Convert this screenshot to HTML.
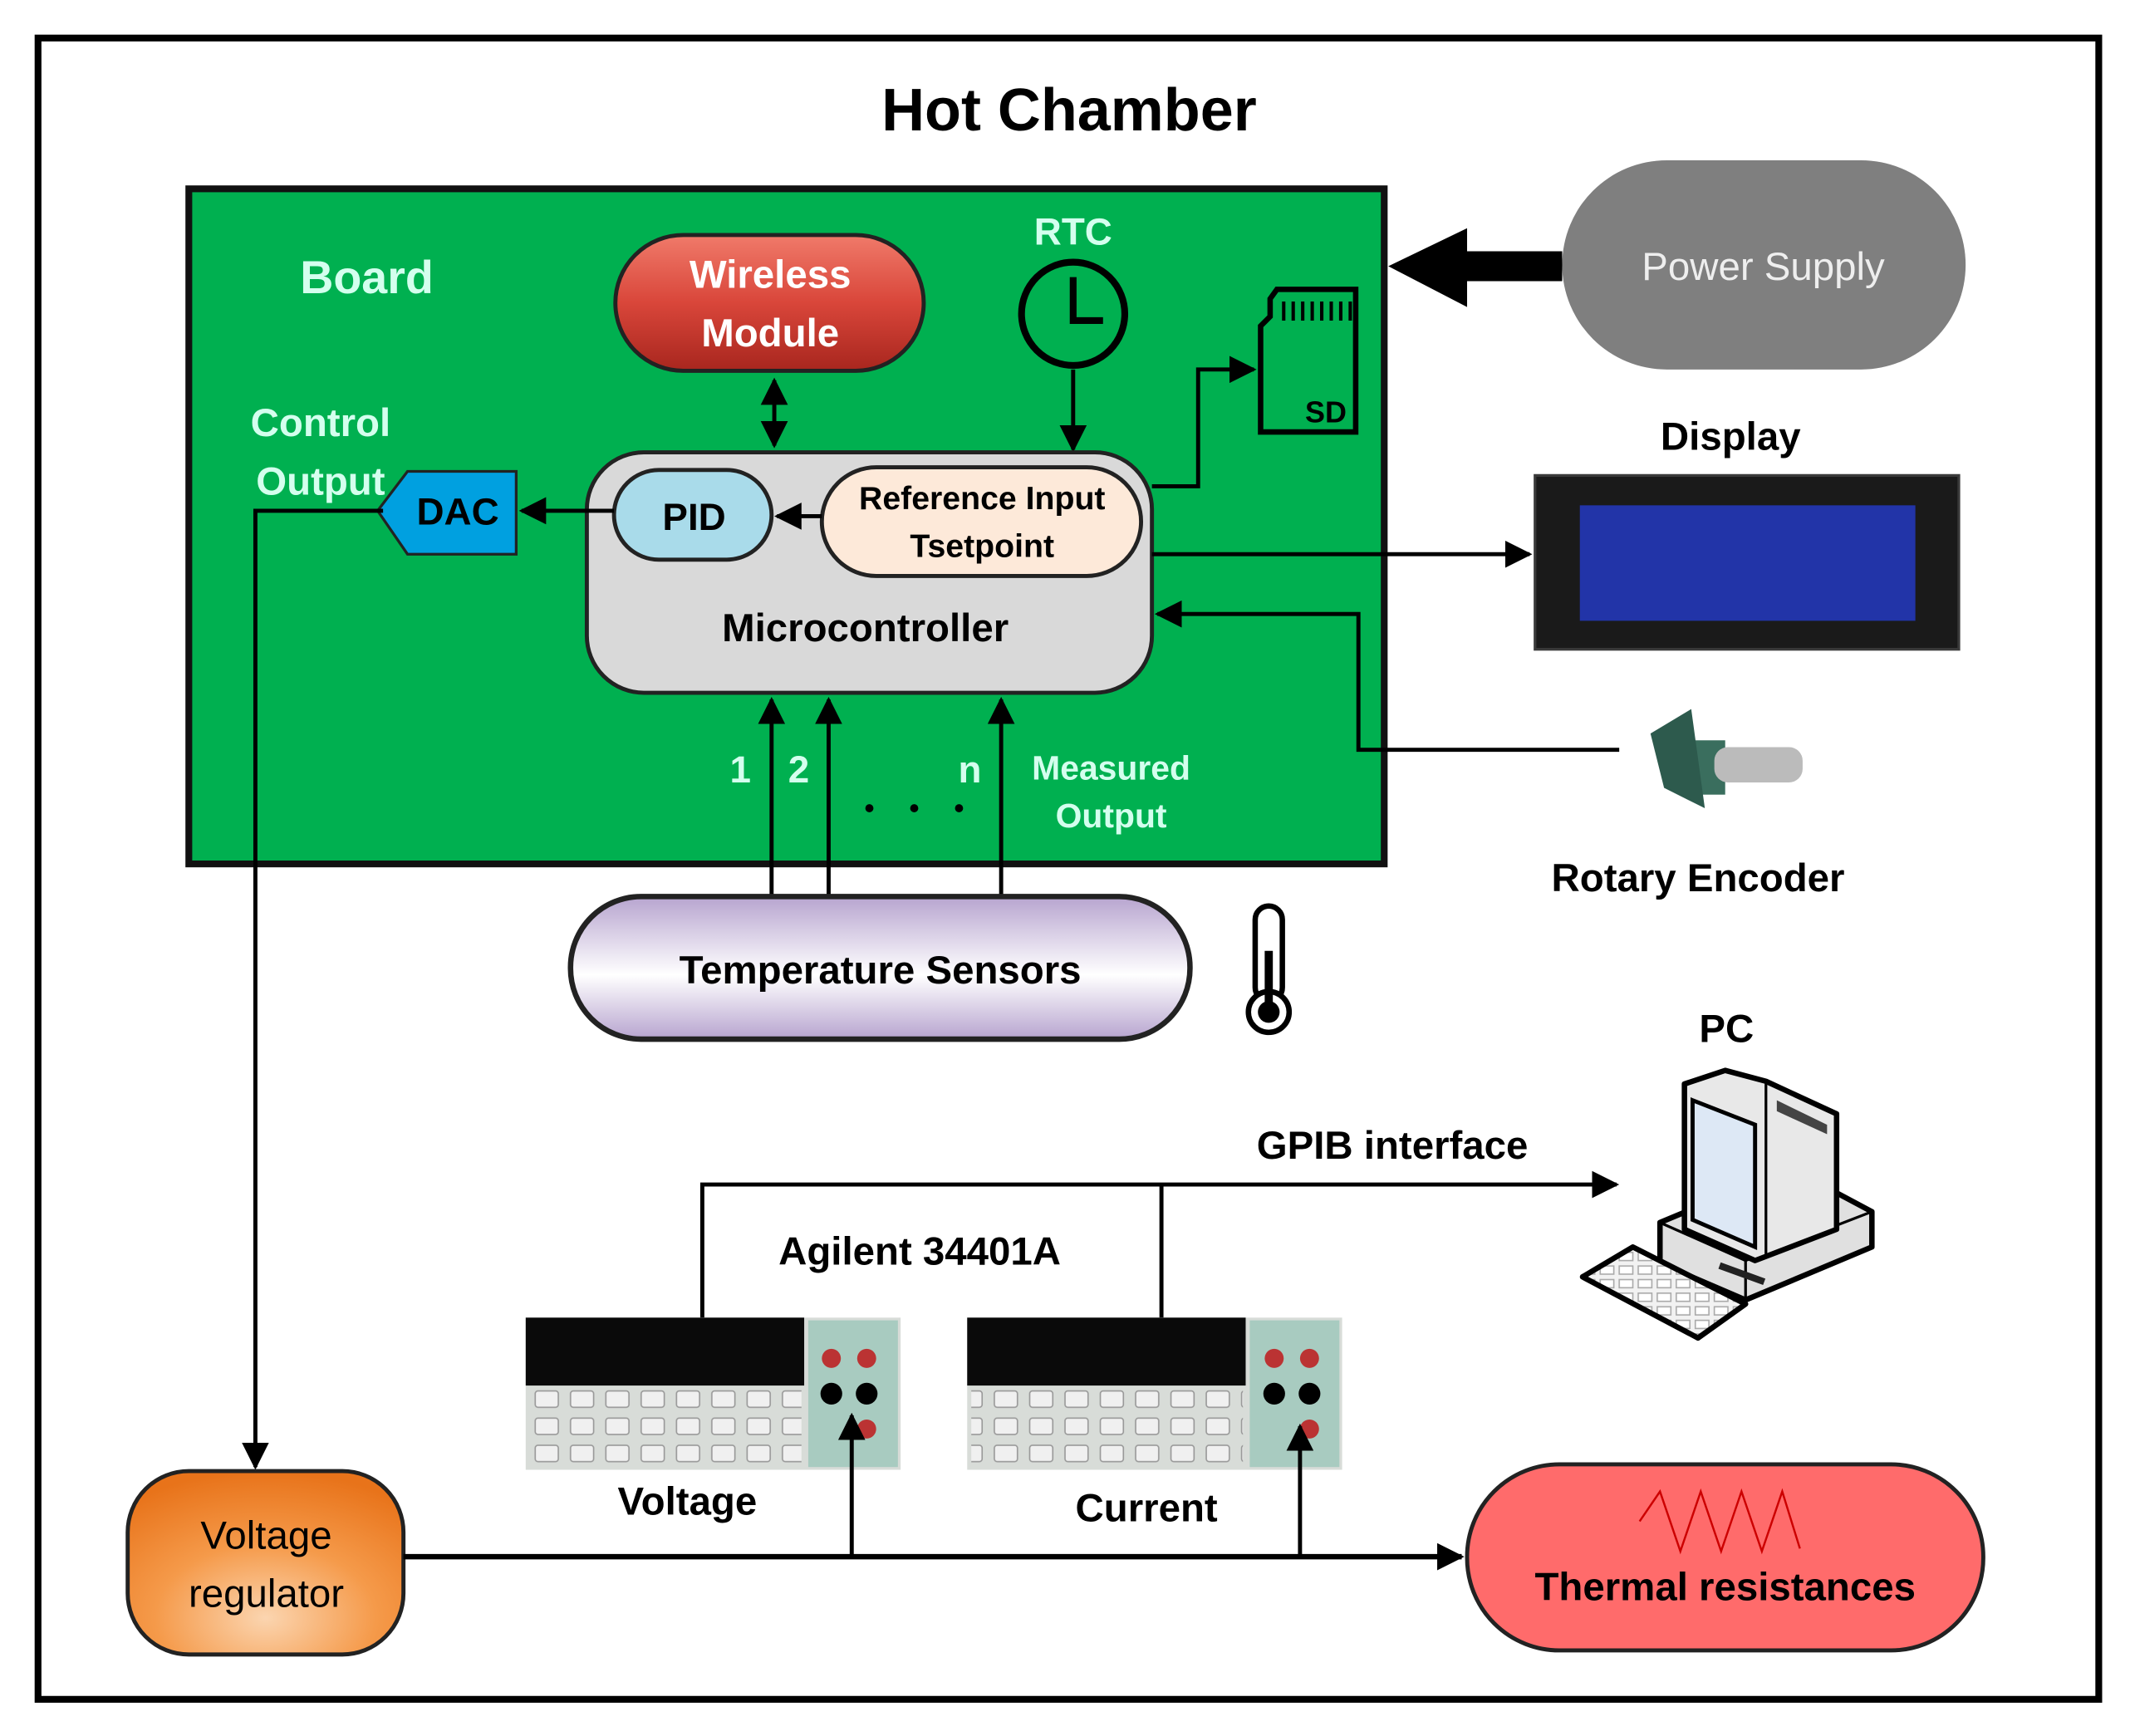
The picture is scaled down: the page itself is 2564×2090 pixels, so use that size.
<!DOCTYPE html>
<html><head><meta charset="utf-8"><style>
html,body{margin:0;padding:0;background:#fff;}
svg{display:block;}
text{font-family:"Liberation Sans",sans-serif;font-weight:bold;text-anchor:middle;}
text.n{font-weight:normal;}
</style></head><body>
<svg width="2564" height="2090" viewBox="0 0 1568 1278" preserveAspectRatio="none" xmlns="http://www.w3.org/2000/svg">
<defs>
<marker id="b" viewBox="0 0 10 10" refX="9" refY="5" markerWidth="20" markerHeight="20" orient="auto-start-reverse" markerUnits="userSpaceOnUse"><path d="M0,0L10,5L0,10z"/></marker>
<linearGradient id="red" x1="0" y1="0" x2="0" y2="1"><stop offset="0" stop-color="#f07a6a"/><stop offset="0.5" stop-color="#d9463a"/><stop offset="1" stop-color="#a8261e"/></linearGradient>
<linearGradient id="pur" x1="0" y1="0" x2="0" y2="1"><stop offset="0" stop-color="#b7a4cf"/><stop offset="0.55" stop-color="#ffffff"/><stop offset="1" stop-color="#b7a4cf"/></linearGradient>
<radialGradient id="org" cx="0.5" cy="0.8" r="0.8"><stop offset="0" stop-color="#fbd5b0"/><stop offset="0.5" stop-color="#f59a4a"/><stop offset="1" stop-color="#e8731a"/></radialGradient>
<pattern id="keys" width="14" height="10" patternUnits="userSpaceOnUse"><rect width="14" height="10" fill="#f2f2f2"/><rect x="2" y="2" width="10" height="6" fill="#fff" stroke="#aaa" stroke-width="1"/></pattern>
<pattern id="btn" width="26" height="20" patternUnits="userSpaceOnUse"><rect width="26" height="20" fill="#d8dcd8"/><rect x="4" y="4" width="17" height="12" rx="2" fill="#f0f0f0" stroke="#999" stroke-width="1"/></pattern>
</defs>
<rect x="28" y="28" width="1517" height="1223" fill="#fff" stroke="#000" stroke-width="5"/>
<text x="787" y="96" font-size="44">Hot Chamber</text>

<rect x="139" y="139" width="880" height="497" fill="#00b050" stroke="#111" stroke-width="5"/>
<text x="270" y="216" font-size="34" fill="#d4ffee">Board</text>
<rect x="453" y="173" width="227" height="100" rx="50" fill="url(#red)" stroke="#222" stroke-width="3"/>
<text x="567" y="212" font-size="29" fill="#fff">Wireless</text>
<text x="567" y="255" font-size="29" fill="#fff">Module</text>
<text x="790" y="180" font-size="28" fill="#d4ffee">RTC</text>
<circle cx="790" cy="231" r="38" fill="none" stroke="#000" stroke-width="5"/>
<path d="M790,204V236H812" fill="none" stroke="#000" stroke-width="5"/>
<path d="M940,213H998V318H928V240L935,233V220z" fill="none" stroke="#000" stroke-width="4"/>
<path d="M945,222v14M952,222v14M959,222v14M966,222v14M973,222v14M980,222v14M987,222v14M994,222v14" stroke="#000" stroke-width="2.5"/>
<text x="976" y="311" font-size="22">SD</text>

<line x1="570" y1="280" x2="570" y2="328" stroke="#000" stroke-width="3" marker-start="url(#b)" marker-end="url(#b)"/>
<line x1="790" y1="272" x2="790" y2="331" stroke="#000" stroke-width="3" marker-end="url(#b)"/>

<rect x="432" y="333" width="416" height="177" rx="42" fill="#d9d9d9" stroke="#222" stroke-width="3"/>
<text x="637" y="472" font-size="29">Microcontroller</text>
<rect x="452" y="346" width="116" height="66" rx="33" fill="#a9dbea" stroke="#222" stroke-width="3"/>
<text x="511" y="390" font-size="28">PID</text>
<rect x="605" y="344" width="235" height="80" rx="40" fill="#fde9d9" stroke="#222" stroke-width="3"/>
<text x="723" y="375" font-size="24">Reference Input</text>
<text x="723" y="410" font-size="24">Tsetpoint</text>
<line x1="605" y1="380" x2="572" y2="380" stroke="#000" stroke-width="3" marker-end="url(#b)"/>
<line x1="452" y1="376" x2="384" y2="376" stroke="#000" stroke-width="3" marker-end="url(#b)"/>
<path d="M278,376L300,347H380V408H300z" fill="#00a0e0" stroke="#222" stroke-width="2"/>
<text x="337" y="386" font-size="28">DAC</text>
<text x="236" y="321" font-size="29" fill="#d4ffee">Control</text>
<text x="236" y="364" font-size="29" fill="#d4ffee">Output</text>
<path d="M282,376H188V1080" fill="none" stroke="#000" stroke-width="3" marker-end="url(#b)"/>

<path d="M848,358H882V272H923" fill="none" stroke="#000" stroke-width="3" marker-end="url(#b)"/>
<line x1="848" y1="408" x2="1126" y2="408" stroke="#000" stroke-width="3" marker-end="url(#b)"/>
<path d="M1192,552H1000V452H852" fill="none" stroke="#000" stroke-width="3" marker-end="url(#b)"/>

<rect x="1150" y="118" width="297" height="154" rx="77" fill="#7f7f7f"/>
<text class="n" x="1298" y="206" font-size="29" fill="#eee">Power Supply</text>
<path d="M1150,185H1080V168L1022,196L1080,226V207H1150z" fill="#000"/>

<text x="1274" y="331" font-size="29">Display</text>
<rect x="1130" y="350" width="312" height="128" fill="#1a1a1a" stroke="#3a3a3a" stroke-width="2"/>
<rect x="1163" y="372" width="247" height="85" fill="#2234a8"/>

<rect x="1240" y="545" width="30" height="40" fill="#3a6e5e"/>
<rect x="1262" y="550" width="65" height="26" rx="10" fill="#bbb"/>
<path d="M1215,540L1245,522L1255,595L1225,580z" fill="#2d5a4d"/>
<text x="1250" y="656" font-size="29">Rotary Encoder</text>

<line x1="568" y1="660" x2="568" y2="515" stroke="#000" stroke-width="3" marker-end="url(#b)"/>
<line x1="610" y1="660" x2="610" y2="515" stroke="#000" stroke-width="3" marker-end="url(#b)"/>
<line x1="737" y1="660" x2="737" y2="515" stroke="#000" stroke-width="3" marker-end="url(#b)"/>
<g fill="#d4ffee" font-size="28"><text x="545" y="576">1</text><text x="588" y="576">2</text><text x="714" y="576">n</text></g>
<g fill="#000"><circle cx="640" cy="595" r="3"/><circle cx="673" cy="595" r="3"/><circle cx="706" cy="595" r="3"/></g>
<text x="818" y="574" font-size="25" fill="#d4ffee">Measured</text>
<text x="818" y="609" font-size="25" fill="#d4ffee">Output</text>

<rect x="420" y="660" width="456" height="105" rx="52" fill="url(#pur)" stroke="#222" stroke-width="4"/>
<text x="648" y="724" font-size="29">Temperature Sensors</text>
<rect x="924" y="667" width="20" height="70" rx="10" fill="#fff" stroke="#000" stroke-width="4"/>
<circle cx="934" cy="745" r="15" fill="#fff" stroke="#000" stroke-width="4"/>
<circle cx="934" cy="745" r="8" fill="#000"/><rect x="931" y="700" width="6" height="45" fill="#000"/>

<text x="1271" y="767" font-size="29">PC</text>
<!-- tower/base -->
<path d="M1222,900L1318,860L1378,892V918L1285,957L1222,930z" fill="#e0e0e0" stroke="#000" stroke-width="4" stroke-linejoin="round"/>
<path d="M1222,900L1285,928L1378,892" fill="none" stroke="#000" stroke-width="2"/>
<path d="M1285,928V957" stroke="#000" stroke-width="2"/>
<rect x="1265" y="935" width="35" height="5" fill="#222" transform="rotate(20 1282 937)"/>
<!-- monitor -->
<path d="M1240,798L1270,788L1300,796L1352,820V905L1292,928L1240,905z" fill="#e8e8e8" stroke="#000" stroke-width="4" stroke-linejoin="round"/>
<path d="M1300,796V925" stroke="#000" stroke-width="2"/>
<path d="M1246,810L1292,828V918L1246,898z" fill="#dde8f5" stroke="#000" stroke-width="3"/>
<path d="M1308,810L1345,828V835L1308,818z" fill="#444"/>
<!-- keyboard -->
<path d="M1165,940L1202,918L1285,960L1250,985z" fill="url(#keys)" stroke="#000" stroke-width="4" stroke-linejoin="round"/>

<path d="M517,970V872H1190" fill="none" stroke="#000" stroke-width="3" marker-end="url(#b)"/>
<line x1="855" y1="872" x2="855" y2="970" stroke="#000" stroke-width="3"/>
<text x="1025" y="853" font-size="29">GPIB interface</text>
<text x="677" y="931" font-size="29">Agilent 34401A</text>

<g>
<rect x="387" y="970" width="276" height="112" fill="#d8dcd8"/>
<rect x="390" y="1022" width="200" height="56" fill="url(#btn)"/>
<rect x="387" y="970" width="205" height="50" fill="#0a0a0a"/>
<rect x="595" y="972" width="66" height="108" fill="#a8cbc0"/>
<circle cx="612" cy="1000" r="7" fill="#b33"/><circle cx="638" cy="1000" r="7" fill="#b33"/>
<circle cx="612" cy="1026" r="8" fill="#000"/><circle cx="638" cy="1026" r="8" fill="#000"/>
<circle cx="638" cy="1052" r="7" fill="#b33"/>
<rect x="712" y="970" width="276" height="112" fill="#d8dcd8"/>
<rect x="715" y="1022" width="200" height="56" fill="url(#btn)"/>
<rect x="712" y="970" width="205" height="50" fill="#0a0a0a"/>
<rect x="920" y="972" width="66" height="108" fill="#a8cbc0"/>
<circle cx="938" cy="1000" r="7" fill="#b33"/><circle cx="964" cy="1000" r="7" fill="#b33"/>
<circle cx="938" cy="1026" r="8" fill="#000"/><circle cx="964" cy="1026" r="8" fill="#000"/>
<circle cx="964" cy="1052" r="7" fill="#b33"/>
</g>
<text x="506" y="1115" font-size="29">Voltage</text>
<text x="844" y="1120" font-size="29">Current</text>

<rect x="94" y="1083" width="203" height="135" rx="45" fill="url(#org)" stroke="#222" stroke-width="3"/>
<text class="n" x="196" y="1140" font-size="29">Voltage</text>
<text class="n" x="196" y="1183" font-size="29">regulator</text>
<line x1="297" y1="1146" x2="1076" y2="1146" stroke="#000" stroke-width="4" marker-end="url(#b)"/>
<line x1="627" y1="1146" x2="627" y2="1042" stroke="#000" stroke-width="3" marker-end="url(#b)"/>
<line x1="957" y1="1146" x2="957" y2="1050" stroke="#000" stroke-width="3" marker-end="url(#b)"/>

<rect x="1080" y="1078" width="380" height="137" rx="68" fill="#ff6b6b" stroke="#222" stroke-width="3"/>
<path d="M1207,1120L1222,1098L1237,1142L1252,1098L1267,1142L1282,1098L1297,1142L1312,1098L1325,1140" fill="none" stroke="#c00" stroke-width="1.5"/>
<text x="1270" y="1178" font-size="29">Thermal resistances</text>
</svg>
</body></html>
